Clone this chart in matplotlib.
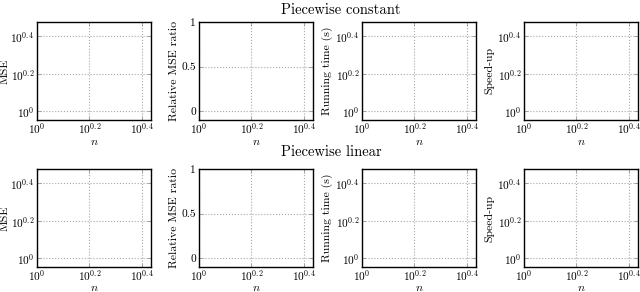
import matplotlib
matplotlib.use("Agg")
import matplotlib.pyplot as plt
from matplotlib.ticker import FixedLocator, FixedFormatter, NullLocator

plt.rcParams['font.family'] = ['cmr10', 'DejaVu Serif']
plt.rcParams['mathtext.fontset'] = 'cm'
plt.rcParams['axes.formatter.use_mathtext'] = True

row_titles = ["Piecewise constant", "Piecewise linear"]
ylabels = ["MSE", "Relative MSE ratio", "Running time (s)", "Speed-up"]
xlabel = "$n$"
log_ticks = [1.0, 10**0.2, 10**0.4]
log_ticklabels = ["$10^{0}$", "$10^{0.2}$", "$10^{0.4}$"]
ratio_ticks = [0, 0.5, 1]
ratio_ticklabels = ["0", "0.5", "1"]

W, H = 640, 292
fig = plt.figure(figsize=(W/100, H/100), dpi=100)

col_x = [37, 199, 362, 524]
ax_w = 114
row_top = [22, 169]
ax_h = 98
fs = 8.5
tfs = 8.2
ylab_off = [32.5, 25, 35, 35]   # px left of axes
xlab_off = [22.5, 21.5]         # px below axes

for r in range(2):
    for c in range(4):
        left = col_x[c] / W
        bottom = (H - row_top[r] - ax_h) / H
        ax = fig.add_axes([left, bottom, ax_w / W, ax_h / H])
        ax.set_xscale('log')
        ax.set_xlim(1, 2.718281828)
        ax.xaxis.set_major_locator(FixedLocator(log_ticks))
        ax.xaxis.set_major_formatter(FixedFormatter(log_ticklabels))
        ax.xaxis.set_minor_locator(NullLocator())
        if c == 1:
            ax.set_ylim(-0.1, 1)
            ax.yaxis.set_major_locator(FixedLocator(ratio_ticks))
            ax.yaxis.set_major_formatter(FixedFormatter(ratio_ticklabels))
        else:
            ax.set_yscale('log')
            ax.set_ylim(0.9, 3.0)
            ax.yaxis.set_major_locator(FixedLocator(log_ticks))
            ax.yaxis.set_major_formatter(FixedFormatter(log_ticklabels))
            ax.yaxis.set_minor_locator(NullLocator())
        ax.grid(True, linestyle=':', color='#a8a8a8', linewidth=0.8)
        ax.tick_params(direction='in', length=3, width=0.6, color='#999999',
                       labelsize=tfs, top=True, right=True)
        ax.tick_params(axis='x', pad=1)
        ax.tick_params(axis='y', pad=2)
        for s in ax.spines.values():
            s.set_linewidth(1.0)
        ax.set_xlabel(xlabel, fontsize=fs, va='center', ha='center')
        ax.xaxis.set_label_coords(0.5, -xlab_off[r] / ax_h)
        ax.set_ylabel(ylabels[c], fontsize=fs, va='center', ha='center')
        ax.yaxis.set_label_coords(-ylab_off[c] / ax_w, 0.5)
    fig.text(281 / W, 1 - (10 if r == 0 else 152) / H, row_titles[r],
             ha='left', va='center', fontsize=10.5)

fig.savefig("out.png", dpi=100)
